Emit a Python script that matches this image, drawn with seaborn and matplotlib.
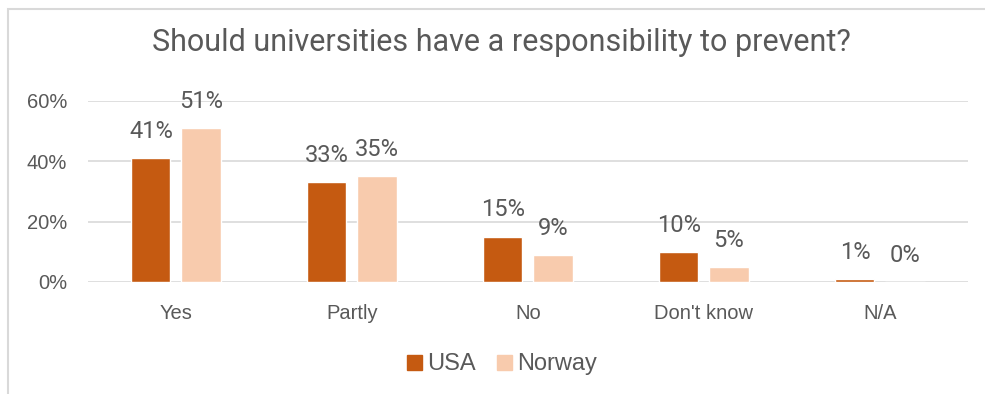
import matplotlib
matplotlib.use("Agg")
import matplotlib.pyplot as plt
import matplotlib.patches as mpatches
import pandas as pd
import seaborn as sns

categories = ["Yes", "Partly", "No", "Don't know", "N/A"]
usa = [0.41, 0.33, 0.15, 0.10, 0.01]
norway = [0.51, 0.35, 0.09, 0.05, 0.00]
series = ["USA", "Norway"]
yticks = [0.0, 0.2, 0.4, 0.6]

colors = {"USA": "#C55A11", "Norway": "#F8CBAD"}
text_color = "#595959"
grid_color = "#D9D9D9"

df = pd.DataFrame({
    "category": categories * 2,
    "country": ["USA"] * len(categories) + ["Norway"] * len(categories),
    "share": usa + norway,
})

sns.set_theme(style="white")
plt.rcParams["font.family"] = ["Liberation Sans", "DejaVu Sans"]
thin_font = ["Roboto", "Liberation Sans", "DejaVu Sans"]

fig = plt.figure(figsize=(9.85, 3.94), dpi=100)
ax = fig.add_axes([0.0893, 0.2843, 0.8934, 0.4594])

sns.barplot(data=df, x="category", y="share", hue="country", order=categories,
            hue_order=series, palette=colors, width=0.57, gap=0.22,
            saturation=1, ax=ax, legend=False)

ax.set_ylim(0, 0.6)
ax.set_xlim(-0.5, len(categories) - 0.5)
ax.set_yticks(yticks)
ax.set_yticklabels([f"{int(round(v * 100))}%" for v in yticks])
ax.yaxis.grid(True, color=grid_color, linewidth=1.2)
ax.set_axisbelow(True)
for s in ax.spines.values():
    s.set_visible(False)
ax.tick_params(axis="both", length=0, labelsize=14.5, colors=text_color)
ax.tick_params(axis="x", pad=16)
ax.tick_params(axis="y", pad=15)
ax.set_xlabel("")
ax.set_ylabel("")

for container in ax.containers:
    ax.bar_label(container, labels=[f"{int(round(v * 100))}%" for v in container.datavalues],
                 fontsize=17, color=text_color, padding=11,
                 family=thin_font, fontweight="normal")

fig.text(0.509, 0.893, "Should universities have a responsibility to prevent?",
         ha="center", va="center", fontsize=22, color=text_color,
         family=thin_font, fontweight="normal")

handles = [mpatches.Patch(color=colors[s], label=s) for s in series]
fig.legend(handles=handles, loc="center", bbox_to_anchor=(0.51, 0.075), ncol=2,
           frameon=False, fontsize=17, handlelength=0.6, handleheight=0.6,
           handletextpad=0.25, columnspacing=0.9, labelcolor=text_color)

# outer chart border
fig.patches.append(mpatches.Rectangle((8 / 985, -0.1), 1.2, 1 - 9 / 394 + 0.1,
                                      transform=fig.transFigure, fill=False,
                                      edgecolor=grid_color, linewidth=1.5))

fig.savefig("out.png", dpi=100)
